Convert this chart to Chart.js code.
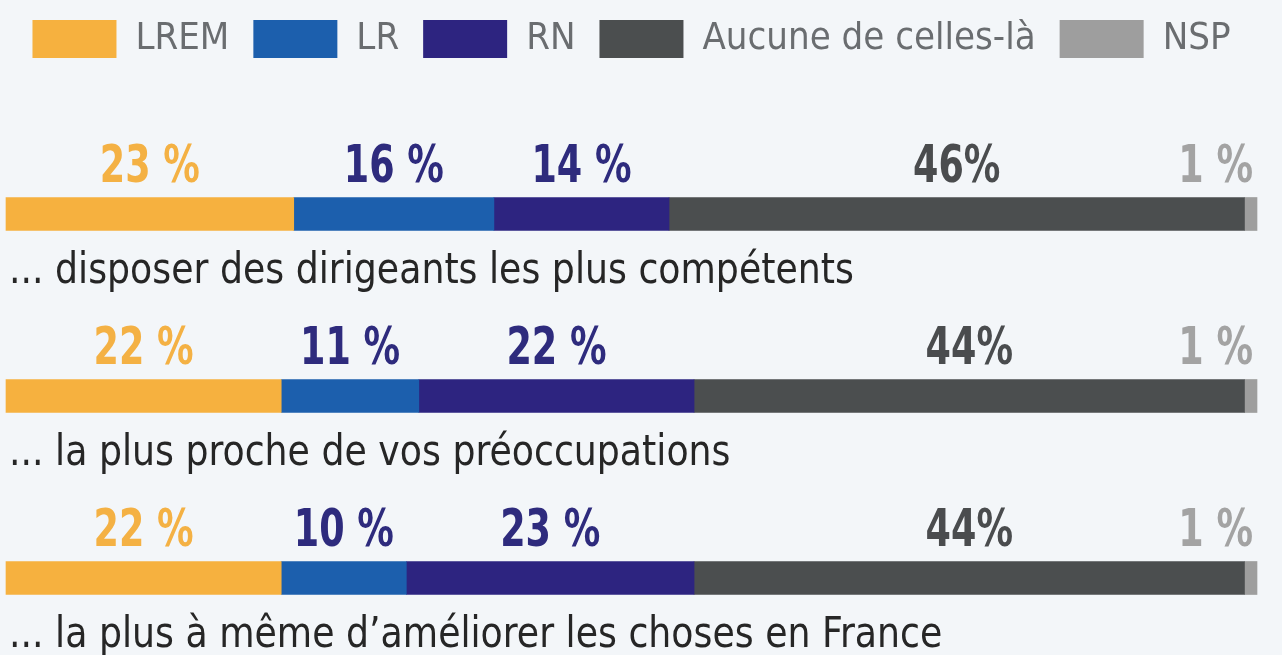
<!DOCTYPE html>
<html lang="fr">
<head>
<meta charset="utf-8">
<title>Sondage partis</title>
<script src="https://cdn.jsdelivr.net/npm/chart.js@4.4.1/dist/chart.umd.min.js"></script>
<style>
    html, body { margin: 0; padding: 0; background: #f3f6f9; }
    #wrap { width: 1282px; height: 655px; position: relative; }
</style>
</head>
<body>
<div id="wrap"><canvas id="sondageChart"></canvas></div>
<script>
// Données du sondage
const categories = [
    '... disposer des dirigeants les plus compétents',
    '... la plus proche de vos préoccupations',
    '... la plus à même d’améliorer les choses en France'
];
const partis = ['LREM', 'LR', 'RN', 'Aucune de celles-là', 'NSP'];
const lrem = [23, 22, 22];
const lr = [16, 11, 10];
const rn = [14, 22, 23];
const aucune = [46, 44, 44];
const nsp = [1, 1, 1];
const suffixes = [' %', ' %', ' %', '%', ' %'];

const couleurs = ['#f6b13f', '#1c5fad', '#2d2480', '#4b4e4f', '#9e9e9e'];
const couleursTexte = ['#f4b144', '#2e2b7d', '#2e2b7d', '#4a4c4e', '#a3a3a3'];
const police = "'DejaVu Sans Condensed', 'DejaVu Sans', sans-serif";

const series = [lrem, lr, rn, aucune, nsp];

// texte resserré horizontalement
function texteSerre(ctx, txt, x, y, sx) {
    ctx.save();
    ctx.translate(x, y);
    ctx.scale(sx, 1);
    ctx.fillText(txt, 0, 0);
    ctx.restore();
}

// Etiquettes des valeurs et des questions
const labelsPlugin = {
    id: 'labelsPlugin',
    afterDatasetsDraw(chart) {
        const ctx = chart.ctx;
        ctx.save();
        ctx.textBaseline = 'alphabetic';
        chart.data.datasets.forEach((ds, i) => {
            chart.getDatasetMeta(i).data.forEach((bar, j) => {
                const top = bar.y - bar.height / 2;
                ctx.font = 'bold 52px ' + police;
                ctx.fillStyle = couleursTexte[i];
                const txt = ds.data[j] + suffixes[i];
                if (i === chart.data.datasets.length - 1) {
                    ctx.textAlign = 'right';
                    texteSerre(ctx, txt, bar.x - 4, top - 16, 0.78);
                } else {
                    ctx.textAlign = 'center';
                    texteSerre(ctx, txt, (bar.x + bar.base) / 2, top - 16, 0.78);
                }
            });
        });
        const meta = chart.getDatasetMeta(0);
        ctx.font = '42px ' + police;
        ctx.fillStyle = '#262626';
        ctx.textAlign = 'left';
        chart.data.labels.forEach((lab, j) => {
            const bar = meta.data[j];
            texteSerre(ctx, lab, chart.chartArea.left + 3, bar.y + bar.height / 2 + 52, 0.96);
        });
        ctx.restore();
    }
};

const data = {
    labels: categories,
    datasets: partis.map((p, i) => ({
        label: p,
        data: series[i],
        backgroundColor: couleurs[i],
        borderWidth: 0,
        barThickness: 33,
        clip: false
    }))
};

const config = {
    type: 'bar',
    data: data,
    options: {
        indexAxis: 'y',
        responsive: true,
        maintainAspectRatio: false,
        animation: false,
        layout: { padding: { top: -4, left: 6, right: 25, bottom: 77 } },
        plugins: {
            legend: {
                position: 'top',
                labels: {
                    boxWidth: 84,
                    boxHeight: 38,
                    padding: 24,
                    color: '#6a6d70',
                    font: { family: police, size: 38 }
                }
            },
            tooltip: { enabled: false }
        },
        scales: {
            x: {
                stacked: true, min: 0, max: 100, position: 'top',
                grid: { display: false }, border: { display: false },
                ticks: { display: false },
                afterFit: (scale) => { scale.height = 146; }
            },
            y: {
                stacked: true, offset: false, display: false
            }
        }
    },
    plugins: [labelsPlugin]
};

const sondageChart = new Chart(document.getElementById('sondageChart'), config);
</script>
</body>
</html>
